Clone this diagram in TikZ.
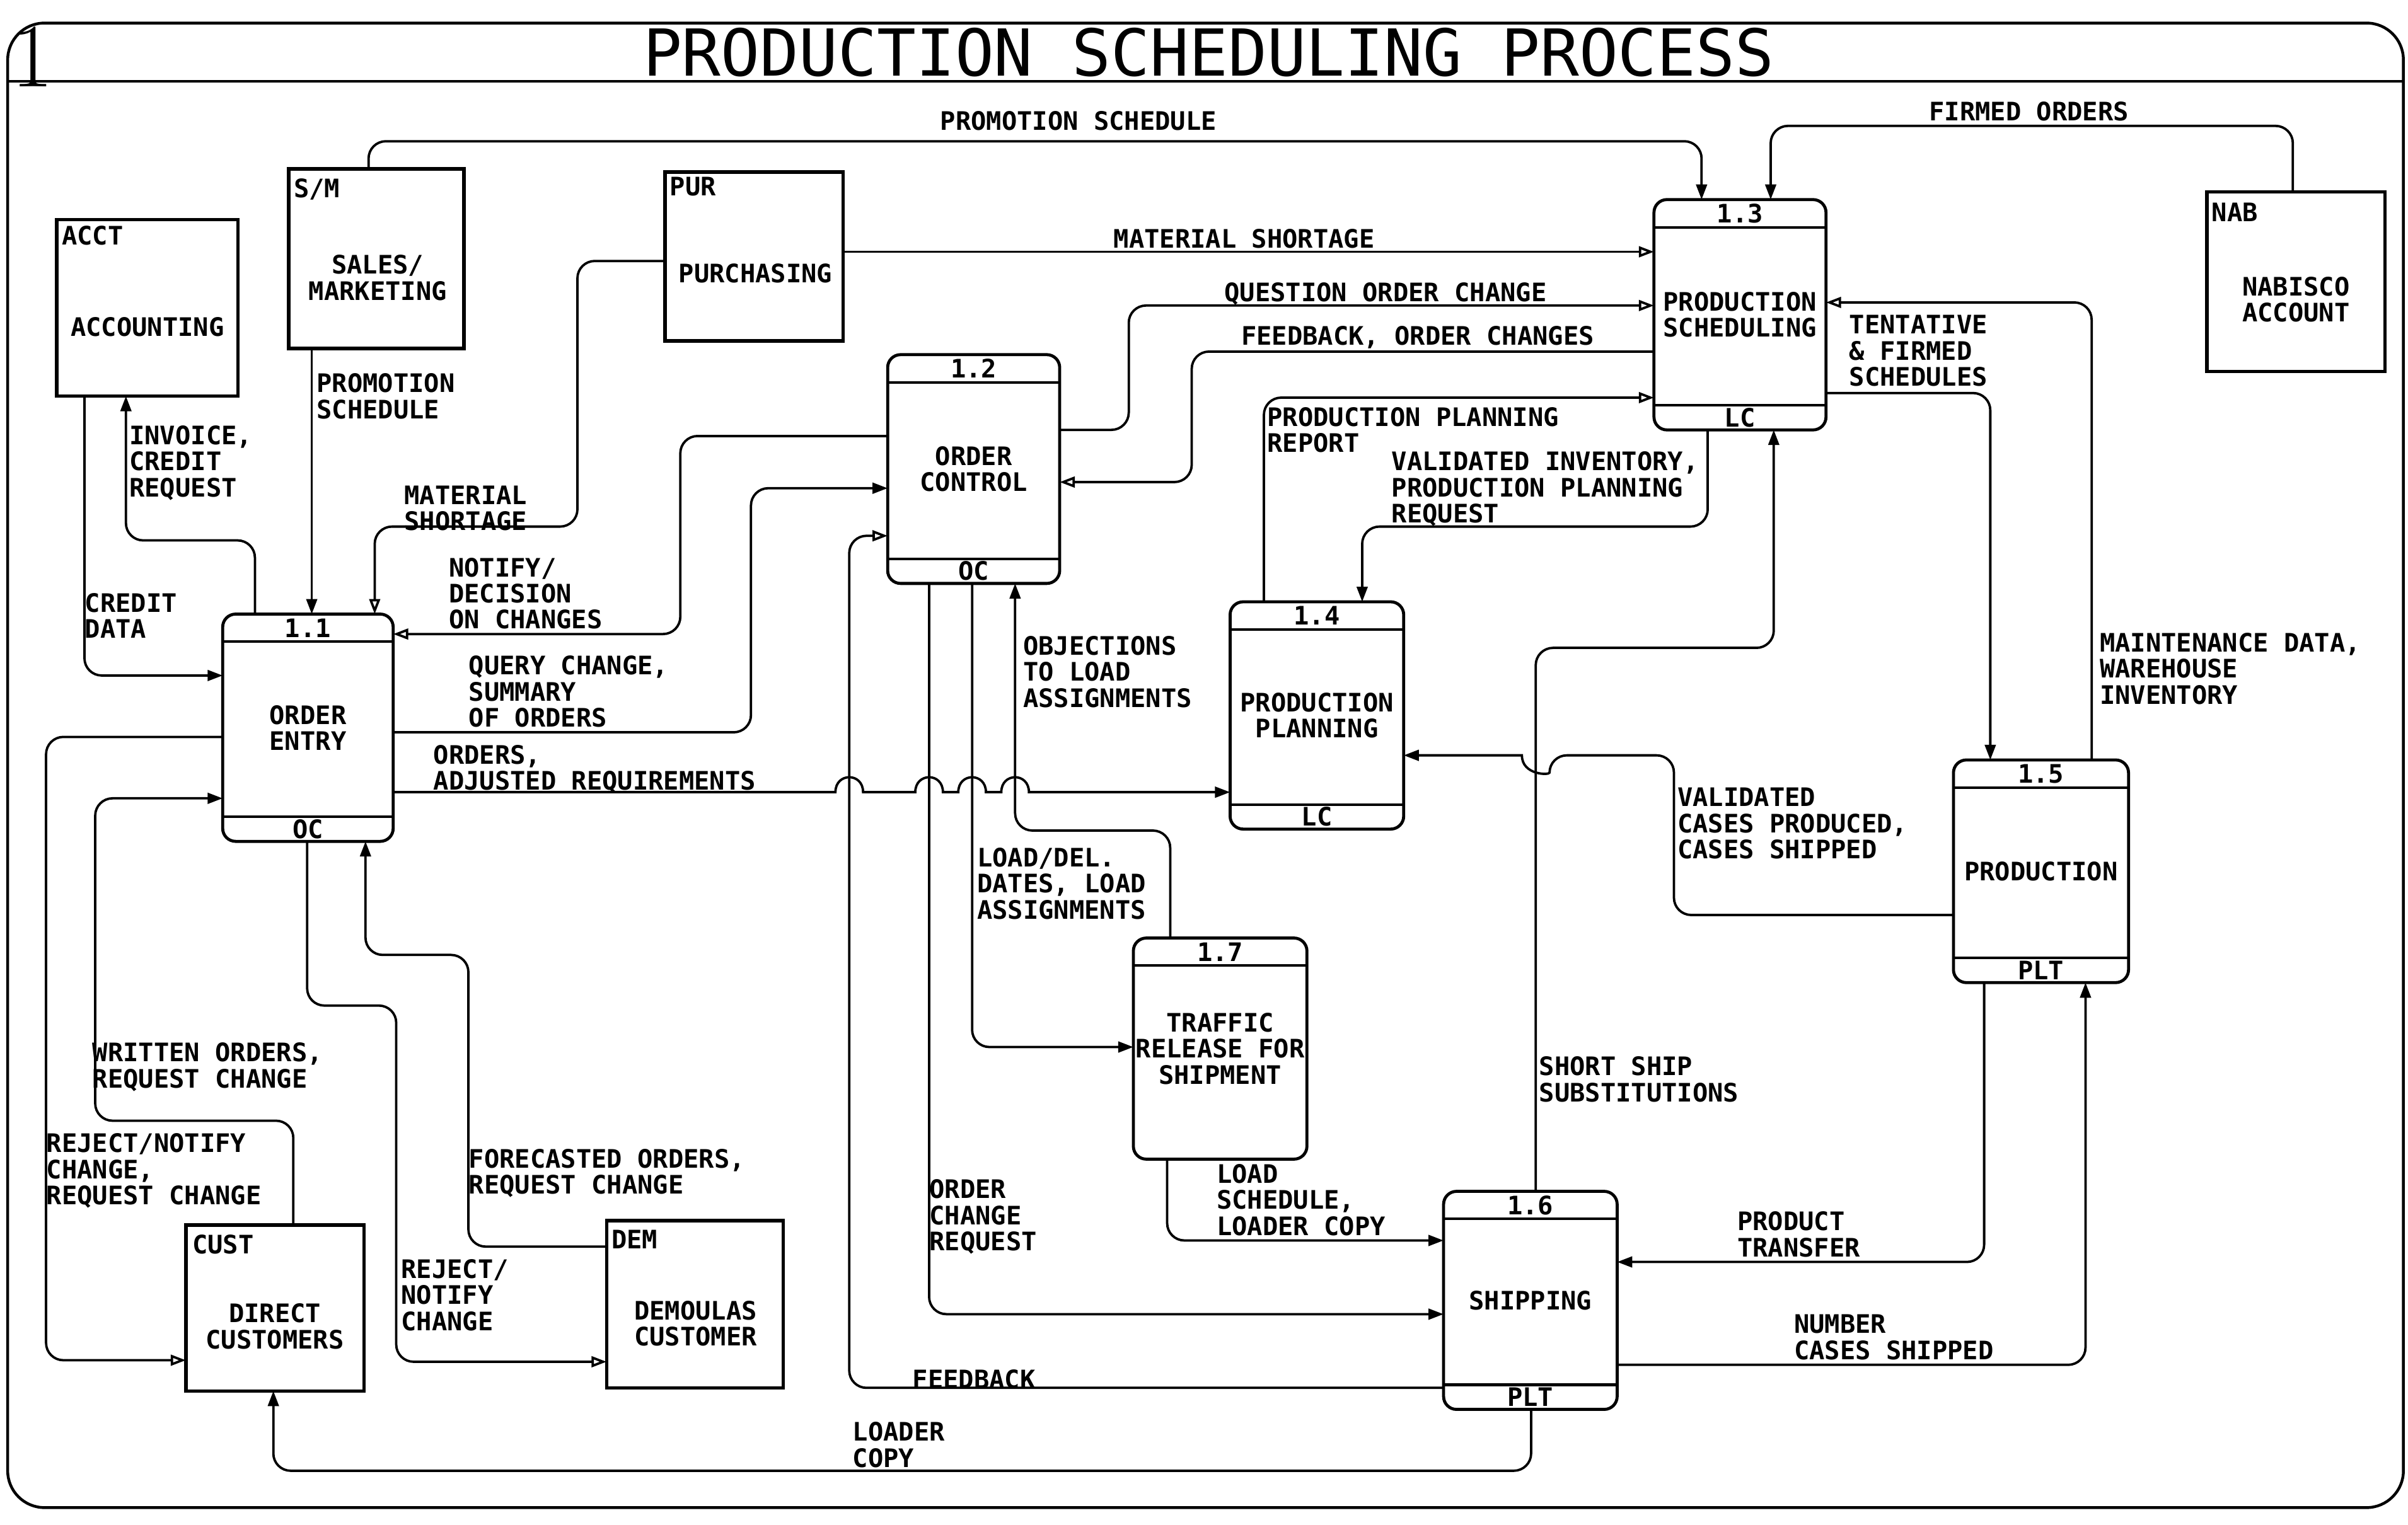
\documentclass[tikz,border=0pt]{standalone}
\usepackage{fontspec}
\usetikzlibrary{arrows.meta}
\newfontfamily\plotfont{DejaVu Sans Mono}
\newcommand{\lblfont}{\plotfont\bfseries\fontsize{11.8}{12.1}\selectfont}

\begin{document}
\begin{tikzpicture}[x=0.025cm,y=0.025cm,yscale=-1,
  lbl/.style={anchor=north west,inner sep=0pt,align=left,font=\lblfont},
  boxtxt/.style={inner sep=0pt,align=center,font=\lblfont},
  extbox/.style={draw,line width=1.6pt,anchor=north west,inner sep=0pt,outer sep=0pt},
  procbox/.style={draw,line width=1.4pt,rounded corners=6pt,anchor=north west,inner sep=0pt,outer sep=0pt,align=center,font=\lblfont},
  strip/.style={line width=1.2pt},
  flow/.style={line width=1.1pt,rounded corners=8pt,-{Triangle[length=7pt,width=5pt]}},
  flowo/.style={flow,-{Triangle[open,length=7pt,width=5pt]}}]
\useasboundingbox (0,0) rectangle (1568,993);

%Shape: Frame
\draw[line width=1.3pt,rounded corners=0.6cm] (5,15) rectangle (1565,982);
\draw[line width=1.3pt] (5,53) -- (1565,53);
% Text Node
\node (sheetno) at (21,37) {\fontsize{42}{42}\selectfont 1};
% Text Node
\node[inner sep=0pt] (title) at (787,34) {\plotfont\fontsize{30}{30}\selectfont PRODUCTION SCHEDULING PROCESS};

%Shape: External entities
\node[extbox,minimum width=2.95cm,minimum height=2.875cm] (acct) at (37,143) {};
\node[extbox,minimum width=2.85cm,minimum height=2.925cm] (sm) at (188,110) {};
\node[extbox,minimum width=2.9cm,minimum height=2.75cm] (pur) at (433,112) {};
\node[extbox,minimum width=2.9cm,minimum height=2.925cm] (nab) at (1437,125) {};
\node[extbox,minimum width=2.9cm,minimum height=2.7cm] (cust) at (121,798) {};
\node[extbox,minimum width=2.875cm,minimum height=2.725cm] (dem) at (395,795) {};
% Text Node
\node[lbl] (accttag) at (40,147) {ACCT};
\node[lbl] (smtag) at (191,116) {S/M};
\node[lbl] (purtag) at (436,115) {PUR};
\node[lbl] (nabtag) at (1440,132) {NAB};
\node[lbl] (custtag) at (125,804) {CUST};
\node[lbl] (demtag) at (398,801) {DEM};
\node[boxtxt] (acctname) at (96,213) {ACCOUNTING};
\node[boxtxt] (smname) at (246,181) {SALES/\\MARKETING};
\node[boxtxt] (purname) at (492,178) {PURCHASING};
\node[boxtxt] (nabname) at (1495,195) {NABISCO\\ACCOUNT};
\node[boxtxt] (custname) at (179,864) {DIRECT\\CUSTOMERS};
\node[boxtxt] (demname) at (453,862) {DEMOULAS\\CUSTOMER};

%Shape: Processes
\node[procbox,minimum width=2.775cm,minimum height=3.7cm] (p11) at (145,400) {ORDER\\ENTRY};
\node[procbox,minimum width=2.8cm,minimum height=3.725cm] (p12) at (578,231) {ORDER\\CONTROL};
\node[procbox,minimum width=2.8cm,minimum height=3.75cm] (p13) at (1077,130) {PRODUCTION\\SCHEDULING};
\node[procbox,minimum width=2.825cm,minimum height=3.7cm] (p14) at (801,392) {PRODUCTION\\PLANNING};
\node[procbox,minimum width=2.85cm,minimum height=3.625cm] (p15) at (1272,495) {PRODUCTION};
\node[procbox,minimum width=2.825cm,minimum height=3.55cm] (p16) at (940,776) {SHIPPING};
\node[procbox,minimum width=2.825cm,minimum height=3.6cm] (p17) at (738,611) {TRAFFIC\\RELEASE FOR\\SHIPMENT};
%Straight Lines
\draw[strip] (p11.north west |- 0,418) -- (p11.north east |- 0,418) (p11.south west |- 0,532) -- (p11.south east |- 0,532);
\draw[strip] (p12.north west |- 0,249) -- (p12.north east |- 0,249) (p12.south west |- 0,364) -- (p12.south east |- 0,364);
\draw[strip] (p13.north west |- 0,148) -- (p13.north east |- 0,148) (p13.south west |- 0,264) -- (p13.south east |- 0,264);
\draw[strip] (p14.north west |- 0,410) -- (p14.north east |- 0,410) (p14.south west |- 0,524) -- (p14.south east |- 0,524);
\draw[strip] (p15.north west |- 0,513) -- (p15.north east |- 0,513) (p15.south west |- 0,624) -- (p15.south east |- 0,624);
\draw[strip] (p16.north west |- 0,794) -- (p16.north east |- 0,794) (p16.south west |- 0,902) -- (p16.south east |- 0,902);
\draw[strip] (p17.north west |- 0,629) -- (p17.north east |- 0,629);
% Text Node
\node[boxtxt] (n11) at (p11.north |- 0,409) {1.1};
\node[boxtxt] (n12) at (p12.north |- 0,240) {1.2};
\node[boxtxt] (n13) at (p13.north |- 0,139) {1.3};
\node[boxtxt] (n14) at (p14.north |- 0,401) {1.4};
\node[boxtxt] (n15) at (p15.north |- 0,504) {1.5};
\node[boxtxt] (n16) at (p16.north |- 0,785) {1.6};
\node[boxtxt] (n17) at (p17.north |- 0,620) {1.7};
\node[boxtxt] (c11) at (p11.south |- 0,540) {OC};
\node[boxtxt] (c12) at (p12.south |- 0,372) {OC};
\node[boxtxt] (c13) at (p13.south |- 0,272) {LC};
\node[boxtxt] (c14) at (p14.south |- 0,532) {LC};
\node[boxtxt] (c15) at (p15.south |- 0,632) {PLT};
\node[boxtxt] (c16) at (p16.south |- 0,910) {PLT};

%Connectors
\draw[flow] (sm.north -| 240,0) |- (1108,92) -- (p13.north -| 1108,0);
\draw[flow] (nab.north -| 1493,0) |- (1153,82) -- (p13.north -| 1153,0);
\draw[flowo] (pur.east |- 0,164) -- (p13.west |- 0,164);
\draw[flowo] (pur.west |- 0,170) -| (376,343) -| (p11.north -| 244,0);
\draw[flow] (sm.south -| 203,0) -- (p11.north -| 203,0);
\draw[flow] (p11.north -| 166,0) |- (82,352) -- (acct.south -| 82,0);
\draw[flow] (acct.south -| 55,0) |- (p11.west |- 0,440);
\draw[flowo] (p12.west |- 0,284) -| (443,413) -- (p11.east |- 0,413);
\draw[flow] (p11.east |- 0,477) -| (489,318) -- (p12.west |- 0,318);
%Curve Lines: hops over the verticals
\draw[flow,sharp corners] (p11.east |- 0,516) -- (544,516) .. controls (544,503) and (562,503) .. (562,516)
  -- (596,516) .. controls (596,503) and (614,503) .. (614,516)
  -- (624,516) .. controls (624,503) and (642,503) .. (642,516)
  -- (652,516) .. controls (652,503) and (670,503) .. (670,516) -- (p14.west |- 0,516);
\draw[flowo] (p12.east |- 0,280) -| (735,199) -- (p13.west |- 0,199);
\draw[flowo] (p13.west |- 0,229) -| (776,314) -- (p12.east |- 0,314);
\draw[flowo] (p14.north -| 823,0) |- (p13.west |- 0,259);
\draw[flow] (p13.south -| 1112,0) |- (887,343) -- (p14.north -| 887,0);
\draw[flow] (p13.east |- 0,256) -| (p15.north -| 1296,0);
\draw[flowo] (p15.north -| 1362,0) |- (p13.east |- 0,197);
\draw[flow] (p15.west |- 0,596) -| (1090,492) -- (1009,492) [sharp corners] .. controls (1009,505) and (991,505) .. (991,492) -- (p14.east |- 0,492);
\draw[flow] (p16.north -| 1000,0) |- (1155,422) -- (p13.south -| 1155,0);
\draw[flow] (p15.south -| 1292,0) |- (p16.east |- 0,822);
\draw[flow] (p16.east |- 0,889) -| (p15.south -| 1358,0);
\draw[flow] (p17.south -| 760,0) |- (p16.west |- 0,808);
\draw[flow] (p12.south -| 605,0) |- (p16.west |- 0,856);
\draw[flow] (p12.south -| 633,0) |- (p17.west |- 0,682);
\draw[flow] (p17.north -| 762,0) |- (661,541) -- (p12.south -| 661,0);
\draw[flowo] (p16.west |- 0,904) -| (553,349) -- (p12.west |- 0,349);
\draw[flow] (p16.south -| 997,0) |- (178,958) -- (cust.south -| 178,0);
\draw[flow] (dem.west |- 0,812) -| (305,622) -| (p11.south -| 238,0);
\draw[flowo] (p11.south -| 200,0) |- (258,655) |- (dem.west |- 0,887);
\draw[flow] (cust.north -| 191,0) |- (62,730) |- (p11.west |- 0,520);
\draw[flowo] (p11.west |- 0,480) -| (30,886) -- (cust.west |- 0,886);

% Text Node
\node[lbl] (t1) at (612,72) {PROMOTION SCHEDULE};
\node[lbl] (t2) at (1256,66) {FIRMED ORDERS};
\node[lbl] (t3) at (725,149) {MATERIAL SHORTAGE};
\node[lbl] (t4) at (263,316) {MATERIAL\\SHORTAGE};
\node[lbl] (t5) at (206,243) {PROMOTION\\SCHEDULE};
\node[lbl] (t6) at (84,277) {INVOICE,\\CREDIT\\REQUEST};
\node[lbl] (t7) at (55,386) {CREDIT\\DATA};
\node[lbl] (t8) at (292,363) {NOTIFY/\\DECISION\\ON CHANGES};
\node[lbl] (t9) at (305,427) {QUERY CHANGE,\\SUMMARY\\OF ORDERS};
\node[lbl] (t10) at (282,485) {ORDERS,\\ADJUSTED REQUIREMENTS};
\node[lbl] (t11) at (797,184) {QUESTION ORDER CHANGE};
\node[lbl] (t12) at (808,212) {FEEDBACK, ORDER CHANGES};
\node[lbl] (t13) at (825,265) {PRODUCTION PLANNING\\REPORT};
\node[lbl] (t14) at (906,294) {VALIDATED INVENTORY,\\PRODUCTION PLANNING\\REQUEST};
\node[lbl] (t15) at (1204,205) {TENTATIVE\\\& FIRMED\\SCHEDULES};
\node[lbl] (t16) at (1367,412) {MAINTENANCE DATA,\\WAREHOUSE\\INVENTORY};
\node[lbl] (t17) at (1092,513) {VALIDATED\\CASES PRODUCED,\\CASES SHIPPED};
\node[lbl] (t18) at (1002,688) {SHORT SHIP\\SUBSTITUTIONS};
\node[lbl] (t19) at (1131,789) {PRODUCT\\TRANSFER};
\node[lbl] (t20) at (1168,856) {NUMBER\\CASES SHIPPED};
\node[lbl] (t21) at (792,758) {LOAD\\SCHEDULE,\\LOADER COPY};
\node[lbl] (t22) at (605,768) {ORDER\\CHANGE\\REQUEST};
\node[lbl] (t23) at (636,552) {LOAD/DEL.\\DATES, LOAD\\ASSIGNMENTS};
\node[lbl] (t24) at (666,414) {OBJECTIONS\\TO LOAD\\ASSIGNMENTS};
\node[lbl] (t25) at (594,892) {FEEDBACK};
\node[lbl] (t26) at (555,926) {LOADER\\COPY};
\node[lbl] (t27) at (305,748) {FORECASTED ORDERS,\\REQUEST CHANGE};
\node[lbl] (t28) at (261,820) {REJECT/\\NOTIFY\\CHANGE};
\node[lbl] (t29) at (60,679) {WRITTEN ORDERS,\\REQUEST CHANGE};
\node[lbl] (t30) at (30,738) {REJECT/NOTIFY\\CHANGE,\\REQUEST CHANGE};

\end{tikzpicture}
\end{document}
